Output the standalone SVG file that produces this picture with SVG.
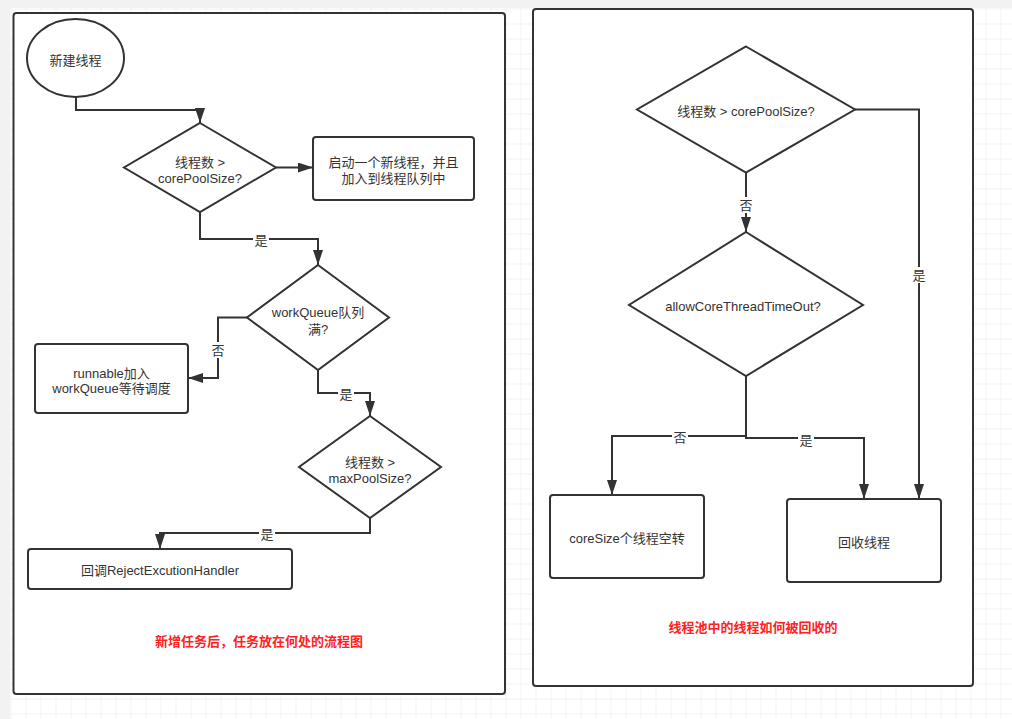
<svg xmlns="http://www.w3.org/2000/svg" width="1012" height="719" viewBox="0 0 1012 719">
  <defs>
    <pattern id="grid" x="10.5" y="8.5" width="15" height="15" patternUnits="userSpaceOnUse">
      <path d="M0,0 H15 M0,0 V15" fill="none" stroke="#e6e6e6" stroke-width="1"/>
    </pattern>
    <marker id="arrow" markerUnits="userSpaceOnUse" markerWidth="16" markerHeight="11" refX="15" refY="5" orient="auto">
      <path d="M0,0 L15,5 L0,10 Z" fill="#333"/>
    </marker>
    <style>
      .panel { fill: #fff; stroke: #333; stroke-width: 2; }
      .shape { fill: #fff; stroke: #333; stroke-width: 2; }
      .edge { fill: none; stroke: #333; stroke-width: 2; marker-end: url(#arrow); }
      .txt { font-family: "Liberation Sans", "Noto Sans CJK SC", sans-serif; font-size: 13px; fill: #333; text-anchor: middle; dominant-baseline: central; }
      .lbl { font-family: "Liberation Sans", "Noto Sans CJK SC", sans-serif; font-size: 13px; fill: #333; text-anchor: middle; dominant-baseline: central; }
      .lblbg { fill: #fff; }
      .title { font-family: "Liberation Sans", "Noto Sans CJK SC", sans-serif; font-size: 13px; font-weight: bold; fill: #ff2222; text-anchor: middle; dominant-baseline: central; }
    </style>
  </defs>

  <!-- canvas -->
  <rect x="0" y="0" width="1012" height="719" fill="#f2f2f2"/>
  <rect x="10" y="8" width="1002" height="711" fill="#fff"/>
  <rect x="10" y="8" width="1002" height="711" fill="url(#grid)"/>

  <!-- panels -->
  <rect class="panel" x="13.5" y="13" width="491.5" height="681" rx="3"/>
  <rect class="panel" x="533" y="9" width="440" height="677" rx="3"/>

  <!-- connectors -->
  <g id="connectors">
    <path class="edge" d="M76,97 V110 H200 V123"/>
    <path class="edge" d="M276,167.5 H313"/>
    <path class="edge" d="M200,212 V239 H318 V265"/>
    <path class="edge" d="M247,317.5 H218 V378 H188"/>
    <path class="edge" d="M318,370 V393 H370 V416"/>
    <path class="edge" d="M370,518 V533 H160 V549"/>

    <path class="edge" d="M746,172 V232"/>
    <path class="edge" d="M746,376 V436 H612 V495"/>
    <path class="edge" d="M746,436 V438 H864 V499"/>
    <path class="edge" d="M855,109.5 H919 V499"/>

    <!-- edge labels -->
    <rect class="lblbg" x="253" y="232" width="16" height="16"/>
    <text class="lbl" x="261" y="240">是</text>
    <rect class="lblbg" x="210" y="342" width="16" height="16"/>
    <text class="lbl" x="218" y="350">否</text>
    <rect class="lblbg" x="338" y="386" width="16" height="16"/>
    <text class="lbl" x="346" y="394">是</text>
    <rect class="lblbg" x="259" y="526" width="16" height="16"/>
    <text class="lbl" x="267" y="534">是</text>

    <rect class="lblbg" x="738" y="197" width="16" height="16"/>
    <text class="lbl" x="746" y="205">否</text>
    <rect class="lblbg" x="672" y="429" width="16" height="16"/>
    <text class="lbl" x="680" y="437">否</text>
    <rect class="lblbg" x="798" y="432" width="16" height="16"/>
    <text class="lbl" x="806" y="440">是</text>
    <rect class="lblbg" x="911" y="267" width="16" height="16"/>
    <text class="lbl" x="919" y="275">是</text>
  </g>

  <!-- left flow: where a submitted task goes -->
  <g id="start">
    <ellipse class="shape" cx="75.5" cy="58" rx="48.5" ry="39"/>
    <text class="txt" x="75.5" y="60">新建线程</text>
  </g>
  <g id="check-core">
    <polygon class="shape" points="200,123 276,167.5 200,212 124,167.5"/>
    <text class="txt" x="200" y="162">线程数 &gt;</text>
    <text class="txt" x="200" y="178">corePoolSize?</text>
  </g>
  <g id="new-thread">
    <rect class="shape" x="313" y="137" width="161" height="63" rx="3"/>
    <text class="txt" x="393.5" y="162">启动一个新线程，并且</text>
    <text class="txt" x="393.5" y="178">加入到线程队列中</text>
  </g>
  <g id="check-queue">
    <polygon class="shape" points="318,265 389,317.5 318,370 247,317.5"/>
    <text class="txt" x="318" y="312">workQueue队列</text>
    <text class="txt" x="318" y="329">满?</text>
  </g>
  <g id="enqueue">
    <rect class="shape" x="35" y="344" width="153" height="69" rx="3"/>
    <text class="txt" x="111.5" y="373">runnable加入</text>
    <text class="txt" x="111.5" y="388">workQueue等待调度</text>
  </g>
  <g id="check-max">
    <polygon class="shape" points="370,416 441,467 370,518 299,467"/>
    <text class="txt" x="370" y="462">线程数 &gt;</text>
    <text class="txt" x="370" y="478">maxPoolSize?</text>
  </g>
  <g id="reject">
    <rect class="shape" x="28" y="549" width="264" height="40" rx="3"/>
    <text class="txt" x="160" y="570">回调RejectExcutionHandler</text>
  </g>
  <text class="title" x="259" y="641">新增任务后，任务放在何处的流程图</text>

  <!-- right flow: how idle threads are reclaimed -->
  <g id="check-core-2">
    <polygon class="shape" points="746,46.5 855,109.5 746,172.5 637,109.5"/>
    <text class="txt" x="746" y="111">线程数 &gt; corePoolSize?</text>
  </g>
  <g id="check-timeout">
    <polygon class="shape" points="746,232 863,305 746,376 629,305"/>
    <text class="txt" x="743" y="306">allowCoreThreadTimeOut?</text>
  </g>
  <g id="idle">
    <rect class="shape" x="550" y="495" width="154" height="83" rx="3"/>
    <text class="txt" x="627" y="538">coreSize个线程空转</text>
  </g>
  <g id="reclaim">
    <rect class="shape" x="787" y="499" width="154" height="83" rx="3"/>
    <text class="txt" x="864" y="542">回收线程</text>
  </g>
  <text class="title" x="753" y="627">线程池中的线程如何被回收的</text>
</svg>
